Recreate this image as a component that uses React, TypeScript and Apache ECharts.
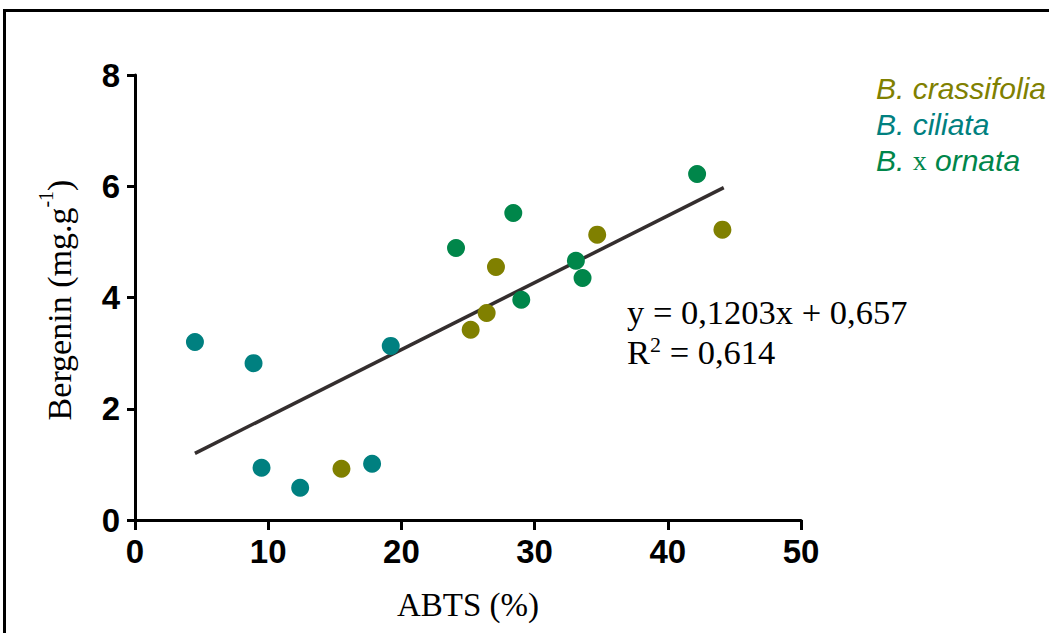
import React, { useEffect, useRef } from "react";
import * as echarts from "echarts";

const xTicks = [0, 10, 20, 30, 40, 50];
const yTicks = [0, 2, 4, 6, 8];

const crassifolia: [number, number][] = [
  [15.5, 0.92],
  [25.2, 3.42],
  [26.4, 3.72],
  [27.1, 4.55],
  [34.7, 5.13],
  [44.1, 5.22],
];
const ciliata: [number, number][] = [
  [4.5, 3.2],
  [8.9, 2.82],
  [9.5, 0.94],
  [12.4, 0.58],
  [17.8, 1.01],
  [19.2, 3.13],
];
const ornata: [number, number][] = [
  [24.1, 4.89],
  [28.4, 5.52],
  [29.0, 3.96],
  [33.1, 4.66],
  [33.6, 4.35],
  [42.2, 6.22],
];

const slope = 0.1203;
const intercept = 0.657;
const fitRange = [4.5, 44.2];
const fitLine = fitRange.map((x) => [x, slope * x + intercept]);

const COLORS = { crassifolia: "#808000", ciliata: "#008080", ornata: "#00864a" };

export default function App() {
  const ref = useRef<HTMLDivElement>(null);
  useEffect(() => {
    if (!ref.current) return;
    const chart = echarts.init(ref.current, null, { renderer: "svg" });
    const axisCommon = {
      type: "value" as const,
      axisLine: { show: true, lineStyle: { color: "#000", width: 3 } },
      axisTick: { show: true, lineStyle: { color: "#000", width: 3 } },
      splitLine: { show: false },
      axisLabel: {
        color: "#000",
        fontFamily: "Liberation Sans, Arial, sans-serif",
        fontWeight: "bold" as const,
        fontSize: 33,
      },
    };
    chart.setOption({
      animation: false,
      backgroundColor: "#fff",
      grid: { left: 135, right: 248, top: 75, bottom: 113 },
      xAxis: {
        ...axisCommon,
        min: xTicks[0],
        max: xTicks[xTicks.length - 1],
        interval: 10,
        axisTick: { ...axisCommon.axisTick, length: 10 },
        axisLabel: { ...axisCommon.axisLabel, margin: 15 },
        name: "ABTS (%)",
        nameLocation: "middle",
        nameGap: 68,
        nameTextStyle: {
          color: "#000",
          fontFamily: "Liberation Serif, Times New Roman, serif",
          fontSize: 33,
        },
      },
      yAxis: {
        ...axisCommon,
        min: yTicks[0],
        max: yTicks[yTicks.length - 1],
        interval: 2,
        axisTick: { ...axisCommon.axisTick, length: 8 },
        axisLabel: { ...axisCommon.axisLabel, margin: 15 },
      },
      legend: {
        orient: "vertical",
        left: 866,
        top: 68,
        icon: "rect",
        itemWidth: 0,
        itemHeight: 0,
        itemGap: 6,
        selectedMode: false,
        textStyle: {
          fontFamily: "Liberation Sans, Arial, sans-serif",
          fontStyle: "italic",
          fontSize: 30,
          rich: {
            x: {
              fontFamily: "Liberation Serif, Times New Roman, serif",
              fontStyle: "normal",
              fontSize: 28,
              color: COLORS.ornata,
            },
            o: {
              fontFamily: "Liberation Sans, Arial, sans-serif",
              fontStyle: "italic",
              fontSize: 30,
              color: COLORS.ornata,
            },
          },
        },
        formatter: (name: string) =>
          name === "B. x ornata" ? "{o|B.} {x|x} {o|ornata}" : name,
        data: [
          { name: "B. crassifolia", textStyle: { color: COLORS.crassifolia } },
          { name: "B. ciliata", textStyle: { color: COLORS.ciliata } },
          { name: "B. x ornata", textStyle: { color: COLORS.ornata } },
        ],
      },
      series: [
        {
          name: "Fit",
          type: "line",
          data: fitLine,
          symbol: "none",
          lineStyle: { color: "#342e2e", width: 3.5 },
          z: 1,
        },
        {
          name: "B. crassifolia",
          type: "scatter",
          data: crassifolia,
          symbolSize: 18,
          itemStyle: { color: COLORS.crassifolia, opacity: 1 },
          z: 3,
        },
        {
          name: "B. ciliata",
          type: "scatter",
          data: ciliata,
          symbolSize: 18,
          itemStyle: { color: COLORS.ciliata, opacity: 1 },
          z: 3,
        },
        {
          name: "B. x ornata",
          type: "scatter",
          data: ornata,
          symbolSize: 18,
          itemStyle: { color: COLORS.ornata, opacity: 1 },
          z: 3,
        },
      ],
      graphic: [
        {
          type: "rect",
          shape: { x: 4.5, y: 10.5, width: 1100, height: 700 },
          style: { fill: "none", stroke: "#000", lineWidth: 3 },
          silent: true,
        },
        {
          type: "text",
          x: 56,
          y: 300,
          rotation: Math.PI / 2,
          style: {
            text: "{a|Bergenin (mg.g}{s|-1}{a|)}",
            align: "center",
            verticalAlign: "middle",
            fill: "#000",
            rich: {
              a: {
                fontFamily: "Liberation Serif, Times New Roman, serif",
                fontSize: 34,
                lineHeight: 40,
                verticalAlign: "bottom",
              },
              s: {
                fontFamily: "Liberation Serif, Times New Roman, serif",
                fontSize: 20,
                lineHeight: 40,
                verticalAlign: "top",
              },
            },
          },
        },
        {
          type: "text",
          x: 627,
          y: 312,
          style: {
            text: "{a|y = 0,1203x + 0,657}",
            align: "left",
            verticalAlign: "middle",
            fill: "#000",
            rich: {
              a: {
                fontFamily: "Liberation Serif, Times New Roman, serif",
                fontSize: 34.5,
                lineHeight: 36,
              },
            },
          },
        },
        {
          type: "text",
          x: 627,
          y: 351,
          style: {
            text: "{a|R}{s|2}{a| = 0,614}",
            align: "left",
            verticalAlign: "middle",
            fill: "#000",
            rich: {
              a: {
                fontFamily: "Liberation Serif, Times New Roman, serif",
                fontSize: 34.5,
                lineHeight: 36,
                verticalAlign: "bottom",
              },
              s: {
                fontFamily: "Liberation Serif, Times New Roman, serif",
                fontSize: 22,
                lineHeight: 36,
                verticalAlign: "top",
              },
            },
          },
        },
      ],
    });
    return () => chart.dispose();
  }, []);
  return (
    <div
      ref={ref}
      style={{ position: "fixed", left: 0, top: 0, width: 1049, height: 633 }}
    />
  );
}
